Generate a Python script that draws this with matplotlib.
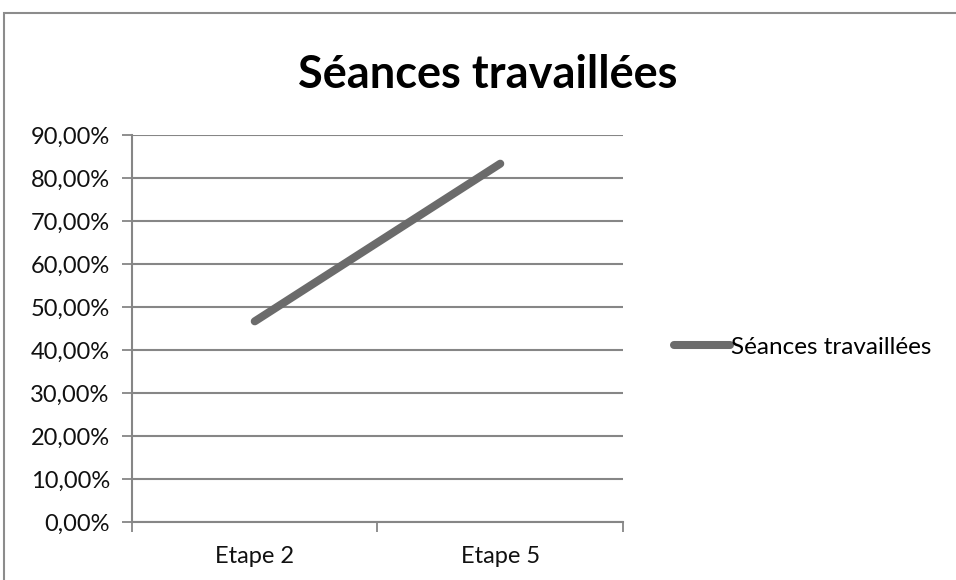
import matplotlib
matplotlib.use("Agg")
import matplotlib.pyplot as plt
from matplotlib.ticker import FuncFormatter
from matplotlib.patches import Rectangle
from matplotlib.lines import Line2D

categories = ["Etape 2", "Etape 5"]
values = [0.4667, 0.8333]
series_name = "Séances travaillées"
title = "Séances travaillées"

plt.rcParams['font.family'] = ['Lato', 'DejaVu Sans']

W, H = 956, 580
fig = plt.figure(figsize=(W/100, H/100), dpi=100)
fig.patch.set_facecolor("white")

# chart border
fig.add_artist(Rectangle((4/W, -0.1), 1.2, 1 - 13/H + 0.1, transform=fig.transFigure,
                         fill=False, edgecolor="#8c8c8c", linewidth=1.5))

ax = fig.add_axes([132/W, 1 - 522/H, (623-132)/W, (522-135)/H])
x = list(range(len(categories)))
ax.plot(x, values, color="#6b6b6b", linewidth=5.8, solid_capstyle="round", zorder=3)

ax.set_xlim(-0.5, len(categories) - 0.5)
ax.set_ylim(0, 0.9)
ax.set_yticks([i/10 for i in range(10)])
ax.yaxis.set_major_formatter(FuncFormatter(lambda v, p: f"{v*100:.2f}%".replace(".", ",")))
ax.set_xticks(x)
ax.set_xticklabels(categories)
ax.set_xticks([-0.5, 0.5, 1.5], minor=True)
ax.tick_params(axis="x", which="major", length=0, pad=17, labelsize=17)
ax.tick_params(axis="x", which="minor", length=7, width=1.3, color="#868686", direction="out")
ax.tick_params(axis="y", length=7, width=1.3, color="#868686", direction="out", pad=9, labelsize=17)
for lab in ax.get_xticklabels() + ax.get_yticklabels():
    lab.set_color("#111111")

ax.grid(axis="y", color="#868686", linewidth=1.5)
ax.set_axisbelow(True)
for s in ["top", "right"]:
    ax.spines[s].set_visible(False)
for s in ["left", "bottom"]:
    ax.spines[s].set_color("#868686")
    ax.spines[s].set_linewidth(1.5)

fig.text(488/W, 1 - 75/H, title, ha="center", va="center", fontsize=32.5, fontweight="bold", color="#000000")

handle = Line2D([0], [0], color="#6b6b6b", linewidth=5.8, solid_capstyle="round")
leg = fig.legend([handle], [series_name], loc="center left", bbox_to_anchor=(664/W, 1 - 347/H),
                 frameon=False, fontsize=17.5, handlelength=2.3, handletextpad=0.05, borderaxespad=0)

fig.savefig("out.png", dpi=100, facecolor="white")
